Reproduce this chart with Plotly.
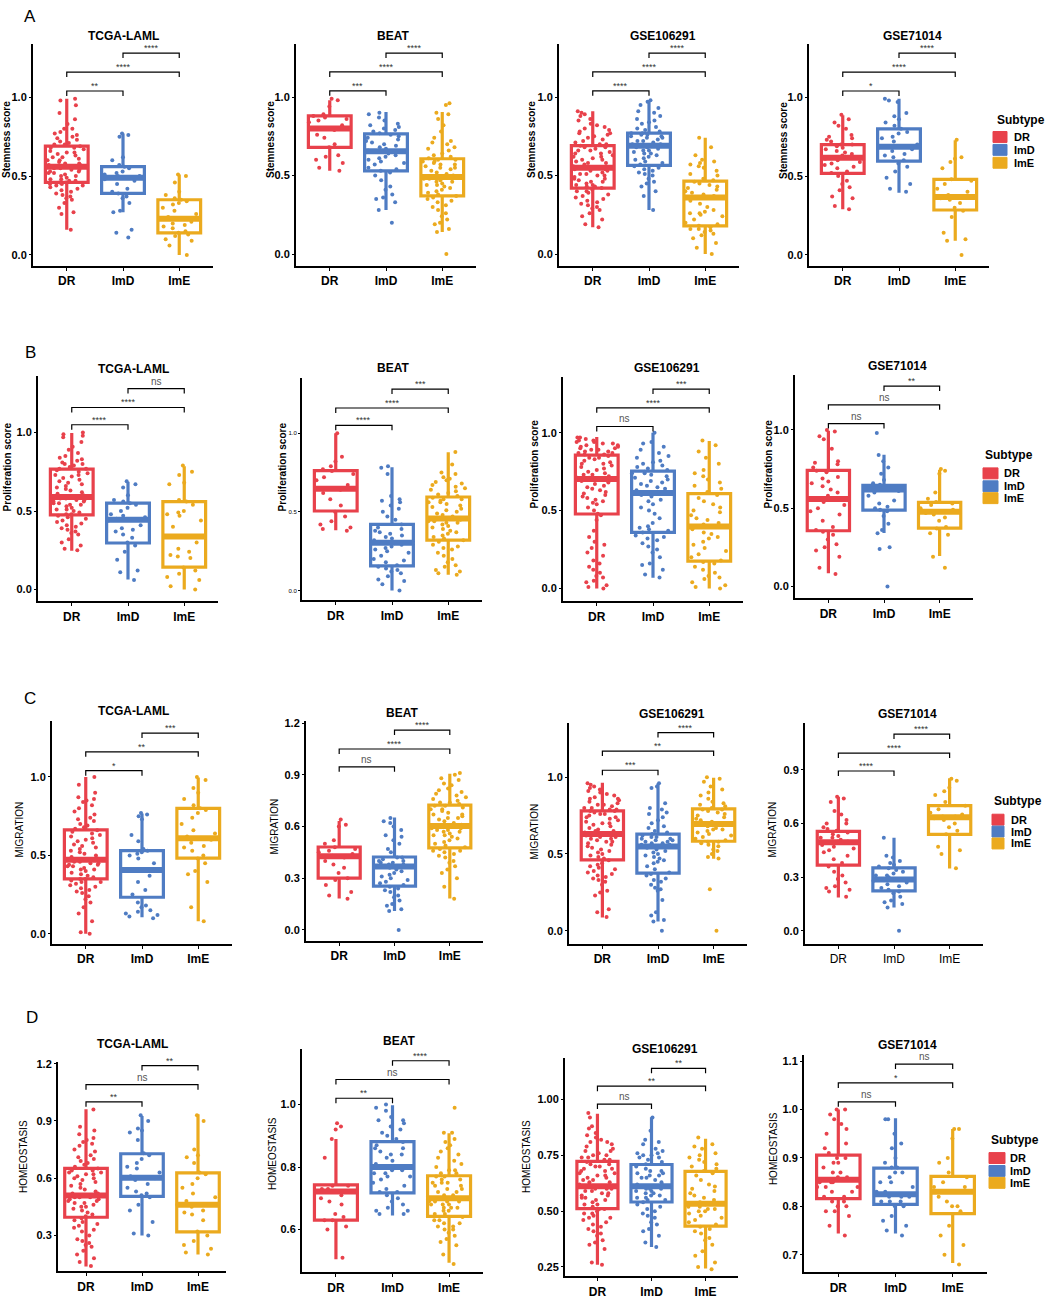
import plotly.graph_objects as go

W, H = 1045, 1299
FONT = "Liberation Sans, Arial, sans-serif"

subtypes = ["DR", "ImD", "ImE"]
colors = ["#E8414B", "#4F7CC3", "#EBAA1E"]
datasets = ["TCGA-LAML", "BEAT", "GSE106291", "GSE71014"]
score_names = ["Stemness score", "Proliferation score", "MIGRATION", "HOMEOSTASIS"]
panel_letters = ["A", "B", "C", "D"]

# ---------------- Row A : Stemness score ----------------
stem_lo = [[0.16, 0.27, 0.0], [0.53, 0.28, 0.14], [0.17, 0.28, 0.0], [0.29, 0.395, 0.09]]
stem_q1 = [[0.46, 0.39, 0.14], [0.68, 0.53, 0.37], [0.42, 0.565, 0.18], [0.517, 0.595, 0.285]]
stem_md = [[0.56, 0.49, 0.23], [0.80, 0.655, 0.49], [0.55, 0.69, 0.36], [0.616, 0.686, 0.367]]
stem_q3 = [[0.69, 0.56, 0.35], [0.88, 0.765, 0.607], [0.69, 0.77, 0.465], [0.70, 0.80, 0.479]]
stem_hi = [[0.99, 0.77, 0.51], [0.98, 0.905, 0.905], [0.91, 0.98, 0.74], [0.886, 0.99, 0.728]]
stem_sig = [["**", "****", "****"], ["***", "****", "****"], ["****", "****", "****"], ["*", "****", "****"]]
stem_brk = [[1.04, 1.16, 1.28], [1.04, 1.16, 1.28], [1.04, 1.16, 1.28], [1.04, 1.16, 1.28]]

stem_tcga = [
    [0.16,0.26,0.27,0.3,0.33,0.35,0.36,0.37,0.38,0.39,0.4,0.41,0.42,0.43,0.44,0.44,0.45,0.45,0.46,
     0.46,0.47,0.47,0.48,0.48,0.49,0.5,0.5,0.51,0.52,0.52,0.53,0.53,0.54,0.54,0.55,0.55,0.56,0.56,
     0.57,0.57,0.58,0.58,0.59,0.6,0.6,0.61,0.62,0.62,0.63,0.64,0.65,0.65,0.66,0.67,0.68,0.68,0.69,
     0.7,0.7,0.71,0.72,0.73,0.74,0.75,0.76,0.77,0.78,0.8,0.8,0.83,0.86,0.9,0.95,0.98,0.99],
    [0.11,0.14,0.16,0.27,0.28,0.33,0.36,0.37,0.39,0.4,0.42,0.45,0.47,0.48,0.49,0.5,0.5,0.51,0.52,
     0.53,0.55,0.56,0.57,0.6,0.62,0.75,0.76,0.77],
    [0.0,0.06,0.09,0.1,0.12,0.13,0.14,0.15,0.17,0.18,0.19,0.2,0.21,0.23,0.24,0.26,0.28,0.3,0.32,
     0.33,0.34,0.35,0.36,0.38,0.4,0.46,0.5,0.51]]
stem_beat = [
    [0.53,0.55,0.58,0.6,0.62,0.63,0.68,0.7,0.74,0.76,0.79,0.8,0.82,0.84,0.85,0.86,0.87,0.88,0.89,
     0.94,0.98,0.99],
    [0.2,0.28,0.33,0.35,0.36,0.38,0.41,0.43,0.47,0.5,0.52,0.53,0.54,0.55,0.57,0.58,0.59,0.6,0.61,
     0.62,0.63,0.64,0.65,0.66,0.67,0.68,0.69,0.7,0.71,0.72,0.73,0.74,0.75,0.76,0.77,0.78,0.79,0.8,
     0.81,0.82,0.83,0.85,0.87,0.89,0.9],
    [0.0,0.14,0.16,0.19,0.2,0.22,0.24,0.26,0.28,0.3,0.31,0.33,0.34,0.35,0.36,0.37,
     0.38,0.39,0.4,0.41,0.42,0.43,0.44,0.44,0.45,0.46,0.46,0.47,0.48,0.48,0.49,0.49,
     0.5,0.51,0.52,0.53,0.54,0.55,0.55,0.56,0.57,0.57,0.58,0.59,0.59,0.6,0.6,0.61,
     0.62,0.63,0.64,0.66,0.67,0.68,0.7,0.71,0.72,0.74,0.78,0.82,0.86,0.89,0.9,0.95,0.96]]
stem_g106 = [
    [0.17,0.19,0.22,0.24,0.26,0.28,0.29,0.3,0.31,0.32,0.33,0.34,0.35,0.36,0.37,0.38,0.39,0.4,0.4,0.41,0.42,
     0.43,0.43,0.44,0.44,0.45,0.46,0.46,0.47,0.48,0.48,0.49,0.5,0.5,0.51,0.51,0.52,0.53,0.53,0.54,0.54,0.55,
     0.56,0.56,0.57,0.58,0.58,0.59,0.6,0.6,0.61,0.62,0.62,0.63,0.64,0.64,0.65,0.66,0.66,0.67,0.68,0.68,0.69,
     0.7,0.7,0.71,0.72,0.73,0.74,0.75,0.76,0.77,0.77,0.78,0.79,0.8,0.81,0.82,0.83,0.85,0.86,0.88,0.89,0.9,0.91],
    [0.28,0.37,0.4,0.43,0.45,0.46,0.48,0.5,0.51,0.52,0.53,0.54,0.55,0.56,0.57,
     0.58,0.59,0.6,0.61,0.62,0.63,0.64,0.64,0.65,0.66,0.66,0.67,0.68,0.68,0.69,
     0.69,0.7,0.7,0.71,0.72,0.72,0.73,0.74,0.74,0.75,0.75,0.76,0.76,0.77,0.77,
     0.78,0.79,0.8,0.81,0.83,0.84,0.85,0.86,0.88,0.9,0.91,0.93,0.95,0.97,0.98],
    [0.0,0.04,0.07,0.1,0.12,0.13,0.14,0.15,0.16,0.16,0.17,0.18,
     0.19,0.2,0.22,0.24,0.25,0.26,0.26,0.27,0.28,0.3,0.32,0.34,0.36,
     0.36,0.37,0.38,0.39,0.4,0.41,0.42,0.43,0.44,0.45,0.46,0.47,
     0.48,0.5,0.51,0.53,0.55,0.56,0.57,0.58,0.59,0.6,0.63,0.68,0.74]]
stem_g710 = [
    [0.29,0.31,0.36,0.37,0.41,0.43,0.45,0.47,0.5,0.52,0.53,0.55,0.56,0.57,0.58,0.59,0.6,0.61,0.62,
     0.63,0.64,0.65,0.66,0.67,0.68,0.69,0.7,0.7,0.72,0.73,0.74,0.75,0.76,0.8,0.82,0.84,0.86,0.89],
    [0.4,0.42,0.45,0.49,0.53,0.56,0.58,0.6,0.62,0.63,0.64,0.66,0.67,0.68,0.69,
     0.7,0.72,0.74,0.75,0.77,0.78,0.8,0.82,0.84,0.86,0.88,0.9,0.97,0.98,0.99],
    [0.0,0.09,0.1,0.14,0.24,0.28,0.3,0.33,0.35,0.36,0.37,0.38,0.4,0.42,0.45,0.47,0.48,0.55,0.59,
     0.61,0.62,0.73]]

# ---------------- Row B : Proliferation score ----------------
prol_lo = [[0.247, 0.063, 0.0], [0.383, 0.0, 0.1], [0.0, 0.068, 0.0], [0.084, 0.341, 0.194]]
prol_q1 = [[0.476, 0.296, 0.142], [0.505, 0.156, 0.32], [0.478, 0.36, 0.175], [0.356, 0.488, 0.373]]
prol_md = [[0.59, 0.444, 0.338], [0.646, 0.303, 0.457], [0.702, 0.613, 0.397], [0.558, 0.62, 0.478]]
prol_q3 = [[0.767, 0.55, 0.56], [0.762, 0.42, 0.594], [0.856, 0.753, 0.609], [0.741, 0.646, 0.537]]
prol_hi = [[0.998, 0.687, 0.786], [1.0, 0.783, 0.878], [0.972, 1.0, 0.947], [0.994, 0.842, 0.745]]
prol_sig = [["****", "****", "ns"], ["****", "****", "***"], ["ns", "****", "***"], ["ns", "ns", "**"]]
prol_brk = [[1.05, 1.16, 1.28], [1.05, 1.16, 1.28], [1.04, 1.16, 1.28], [1.04, 1.16, 1.28]]

prol_tcga = [
    [0.25,0.26,0.28,0.3,0.32,0.35,0.36,0.37,0.38,0.39,0.4,0.41,0.42,0.43,0.44,0.45,0.46,0.47,0.48,
     0.48,0.49,0.5,0.51,0.51,0.52,0.53,0.54,0.54,0.55,0.55,0.56,0.56,0.57,0.57,0.58,0.58,0.59,0.59,
     0.6,0.61,0.62,0.63,0.64,0.65,0.66,0.67,0.68,0.69,0.7,0.71,0.72,0.73,0.73,0.74,0.75,0.76,0.77,
     0.77,0.78,0.79,0.8,0.8,0.81,0.82,0.83,0.84,0.85,0.87,0.89,0.91,0.94,0.97,0.98,0.99,1.0],
    [0.06,0.11,0.12,0.19,0.24,0.28,0.3,0.33,0.35,0.37,0.38,0.39,0.41,0.44,
     0.45,0.46,0.47,0.48,0.5,0.52,0.54,0.55,0.56,0.57,0.6,0.65,0.67,0.69],
    [0.0,0.02,0.06,0.08,0.1,0.12,0.14,0.2,0.21,0.22,0.24,0.26,0.3,0.34,
     0.4,0.44,0.47,0.48,0.49,0.5,0.54,0.56,0.57,0.67,0.68,0.73,0.75,0.79]]
prol_beat = [
    [0.38,0.39,0.4,0.42,0.44,0.47,0.5,0.54,0.58,0.62,0.64,0.65,0.67,0.7,0.72,0.74,0.76,0.77,0.79,
     0.82,0.85,1.0],
    [0.0,0.04,0.06,0.07,0.09,0.11,0.12,0.13,0.14,0.15,0.16,0.18,0.19,0.2,0.22,0.24,0.25,0.26,0.27,
     0.28,0.29,0.3,0.31,0.32,0.33,0.34,0.35,0.36,0.37,0.38,0.39,0.4,0.42,0.45,0.47,0.5,0.52,0.54,
     0.56,0.57,0.58,0.6,0.74,0.78,0.79],
    [0.1,0.11,0.12,0.13,0.15,0.16,0.18,0.2,0.22,0.24,0.26,0.27,0.28,0.29,0.31,0.32,
     0.33,0.34,0.35,0.36,0.37,0.38,0.39,0.4,0.41,0.42,0.43,0.43,0.44,0.44,0.45,0.46,
     0.46,0.47,0.48,0.49,0.5,0.51,0.52,0.53,0.54,0.55,0.56,0.56,0.57,0.58,0.58,0.59,
     0.6,0.61,0.62,0.63,0.64,0.65,0.66,0.67,0.68,0.69,0.7,0.71,0.72,0.74,0.75,0.8,0.88]]
prol_g106 = [
    [0.0,0.01,0.02,0.04,0.05,0.07,0.08,0.1,0.12,0.14,0.16,0.18,0.21,0.23,0.26,0.28,0.3,0.33,0.37,0.44,0.47,
     0.48,0.5,0.52,0.54,0.55,0.56,0.57,0.58,0.59,0.6,0.61,0.62,0.63,0.64,0.65,0.66,0.67,0.68,0.69,0.69,0.7,
     0.7,0.71,0.71,0.72,0.73,0.73,0.74,0.75,0.76,0.77,0.78,0.79,0.8,0.8,0.81,0.82,0.83,0.84,0.84,0.85,0.86,
     0.86,0.87,0.87,0.88,0.88,0.89,0.89,0.9,0.9,0.91,0.91,0.92,0.92,0.93,0.93,0.94,0.94,0.95,0.95,0.96,0.97,0.97],
    [0.07,0.09,0.12,0.15,0.16,0.2,0.23,0.25,0.27,0.29,0.31,0.32,0.33,0.34,0.36,
     0.37,0.38,0.39,0.4,0.42,0.45,0.48,0.5,0.52,0.54,0.56,0.57,0.59,0.6,0.61,
     0.62,0.63,0.64,0.65,0.66,0.67,0.68,0.69,0.7,0.71,0.72,0.73,0.74,0.74,0.75,
     0.76,0.77,0.78,0.79,0.8,0.81,0.82,0.84,0.85,0.87,0.89,0.91,0.93,0.94,1.0],
    [0.0,0.01,0.02,0.04,0.06,0.07,0.08,0.1,0.12,0.14,0.16,0.17,
     0.18,0.2,0.22,0.24,0.26,0.28,0.3,0.32,0.33,0.35,0.36,0.38,0.4,
     0.41,0.42,0.44,0.45,0.47,0.49,0.5,0.52,0.54,0.56,0.58,0.6,
     0.62,0.64,0.66,0.68,0.7,0.72,0.74,0.76,0.8,0.84,0.88,0.92,0.95]]
prol_g710 = [
    [0.08,0.12,0.19,0.23,0.25,0.27,0.3,0.33,0.35,0.36,0.38,0.42,0.46,0.48,0.5,0.52,0.54,0.56,0.56,
     0.58,0.6,0.62,0.64,0.66,0.67,0.69,0.7,0.73,0.74,0.76,0.78,0.79,0.8,0.88,0.94,0.96,0.99,1.0],
    [0.0,0.24,0.25,0.34,0.36,0.4,0.45,0.48,0.49,0.5,0.51,0.53,0.55,0.58,0.6,0.61,0.62,0.62,0.63,
     0.63,0.64,0.64,0.65,0.66,0.68,0.72,0.76,0.8,0.84,0.98],
    [0.12,0.19,0.33,0.34,0.37,0.38,0.42,0.44,0.46,0.47,0.48,0.48,0.49,0.5,0.52,0.53,0.54,0.56,0.6,
     0.72,0.74,0.75]]

# ---------------- Row C : MIGRATION ----------------
migr_lo = [[0.0, 0.106, 0.08], [0.182, 0.11, 0.182], [0.086, 0.06, 0.469], [0.187, 0.131, 0.348]]
migr_q1 = [[0.35, 0.233, 0.483], [0.30, 0.254, 0.476], [0.462, 0.376, 0.583], [0.367, 0.224, 0.539]]
migr_md = [[0.472, 0.407, 0.61], [0.427, 0.368, 0.603], [0.63, 0.548, 0.695], [0.496, 0.287, 0.635]]
migr_q3 = [[0.663, 0.53, 0.80], [0.481, 0.423, 0.724], [0.781, 0.63, 0.794], [0.556, 0.352, 0.70]]
migr_hi = [[1.0, 0.767, 0.996], [0.632, 0.652, 0.906], [0.963, 0.959, 0.996], [0.75, 0.52, 0.854]]
migr_sig = [["*", "**", "***"], ["ns", "****", "****"], ["***", "**", "****"], ["****", "****", "****"]]
migr_brk = [[1.04, 1.16, 1.28], [0.946, 1.05, 1.16], [1.045, 1.17, 1.29], [0.894, 0.994, 1.10]]

migr_tcga = [
    [0.0,0.01,0.08,0.13,0.17,0.2,0.22,0.24,0.26,0.27,0.28,0.29,0.3,0.31,0.32,0.33,0.33,0.34,0.35,
     0.35,0.36,0.37,0.38,0.39,0.4,0.41,0.41,0.42,0.43,0.43,0.44,0.44,0.45,0.45,0.46,0.46,0.47,0.47,
     0.48,0.49,0.5,0.51,0.52,0.53,0.54,0.55,0.56,0.57,0.58,0.59,0.6,0.61,0.62,0.63,0.64,0.65,0.66,
     0.67,0.68,0.69,0.7,0.72,0.73,0.74,0.76,0.78,0.8,0.82,0.84,0.85,0.86,0.87,0.9,0.95,1.0],
    [0.1,0.11,0.12,0.13,0.14,0.15,0.17,0.18,0.2,0.25,0.28,0.33,0.37,0.4,0.41,0.45,0.48,0.5,0.51,
     0.52,0.53,0.54,0.59,0.63,0.73,0.75,0.76,0.77],
    [0.08,0.17,0.33,0.38,0.4,0.45,0.48,0.5,0.53,0.55,0.56,0.58,0.6,0.61,0.62,0.64,0.66,0.7,0.74,
     0.77,0.79,0.8,0.82,0.86,0.9,0.93,0.98,1.0]]
migr_beat = [
    [0.18,0.2,0.22,0.26,0.29,0.3,0.33,0.36,0.38,0.4,0.42,0.43,0.44,0.45,0.46,0.47,0.48,0.5,0.52,
     0.6,0.61,0.64],
    [0.0,0.11,0.12,0.14,0.15,0.17,0.19,0.2,0.22,0.23,0.24,0.25,0.26,0.27,0.28,0.29,0.3,0.31,0.32,
     0.33,0.34,0.35,0.36,0.37,0.37,0.38,0.38,0.39,0.39,0.4,0.4,0.41,0.42,0.42,0.45,0.47,0.5,0.52,
     0.54,0.55,0.58,0.6,0.62,0.63,0.65],
    [0.18,0.25,0.3,0.33,0.35,0.37,0.39,0.4,0.42,0.43,0.44,0.45,0.46,0.46,0.47,0.48,
     0.49,0.5,0.51,0.52,0.53,0.54,0.55,0.55,0.56,0.57,0.57,0.58,0.58,0.59,0.59,0.6,
     0.61,0.62,0.63,0.64,0.65,0.65,0.66,0.67,0.67,0.68,0.69,0.7,0.7,0.71,0.72,0.72,
     0.73,0.74,0.74,0.75,0.76,0.77,0.78,0.79,0.8,0.81,0.82,0.84,0.85,0.87,0.88,0.9,0.91]]
migr_g106 = [
    [0.09,0.12,0.14,0.23,0.25,0.26,0.3,0.32,0.33,0.34,0.35,0.36,0.37,0.38,0.39,0.4,0.41,0.42,0.43,0.44,0.46,
     0.47,0.48,0.49,0.5,0.51,0.52,0.53,0.54,0.55,0.56,0.57,0.58,0.58,0.59,0.6,0.6,0.61,0.61,0.62,0.62,0.63,
     0.63,0.64,0.65,0.65,0.66,0.67,0.68,0.69,0.7,0.7,0.71,0.72,0.73,0.74,0.74,0.75,0.76,0.76,0.77,0.78,0.78,
     0.79,0.79,0.8,0.8,0.81,0.82,0.82,0.83,0.84,0.85,0.86,0.86,0.87,0.88,0.89,0.9,0.91,0.92,0.93,0.94,0.95,0.96],
    [0.0,0.06,0.07,0.1,0.12,0.2,0.26,0.27,0.28,0.3,0.32,0.33,0.34,0.36,0.37,
     0.38,0.4,0.42,0.44,0.45,0.46,0.47,0.48,0.49,0.5,0.51,0.52,0.53,0.54,0.55,
     0.55,0.56,0.56,0.57,0.57,0.58,0.58,0.59,0.59,0.6,0.6,0.61,0.61,0.62,0.63,
     0.64,0.65,0.67,0.68,0.7,0.72,0.74,0.76,0.77,0.79,0.8,0.83,0.93,0.94,0.96],
    [0.0,0.27,0.47,0.48,0.5,0.52,0.53,0.55,0.56,0.57,0.58,0.58,
     0.59,0.6,0.61,0.62,0.63,0.64,0.65,0.66,0.66,0.67,0.68,0.69,0.69,
     0.7,0.7,0.71,0.72,0.73,0.74,0.75,0.76,0.77,0.78,0.79,0.79,
     0.8,0.81,0.82,0.83,0.84,0.86,0.88,0.9,0.92,0.94,0.97,0.99,1.0]]
migr_g710 = [
    [0.19,0.22,0.23,0.24,0.25,0.27,0.29,0.31,0.33,0.36,0.38,0.4,0.42,0.44,0.45,0.46,0.47,0.48,0.49,
     0.5,0.5,0.51,0.52,0.52,0.53,0.54,0.55,0.56,0.57,0.58,0.6,0.6,0.62,0.65,0.67,0.72,0.74,0.75],
    [0.0,0.13,0.15,0.16,0.17,0.19,0.21,0.22,0.23,0.24,0.25,0.26,0.27,0.28,0.29,0.29,0.3,0.31,0.31,
     0.32,0.33,0.34,0.35,0.36,0.37,0.38,0.39,0.41,0.42,0.52],
    [0.35,0.43,0.45,0.47,0.54,0.56,0.58,0.6,0.62,0.63,0.64,0.64,0.65,0.66,0.68,0.7,0.72,0.76,0.78,
     0.8,0.84,0.85]]

# ---------------- Row D : HOMEOSTASIS ----------------
home_lo = [[0.137, 0.30, 0.20], [0.505, 0.645, 0.494], [0.26, 0.34, 0.243], [0.744, 0.744, 0.683]]
home_q1 = [[0.395, 0.505, 0.318], [0.63, 0.717, 0.642], [0.511, 0.541, 0.433], [0.816, 0.804, 0.785]]
home_md = [[0.509, 0.602, 0.461], [0.722, 0.80, 0.70], [0.612, 0.612, 0.533], [0.855, 0.825, 0.83]]
home_q3 = [[0.651, 0.728, 0.628], [0.743, 0.881, 0.772], [0.723, 0.709, 0.678], [0.906, 0.879, 0.862]]
home_hi = [[0.961, 0.926, 0.935], [0.89, 0.998, 0.908], [0.936, 0.921, 0.824], [1.0, 0.982, 0.96]]
home_sig = [["**", "ns", "**"], ["**", "ns", "****"], ["ns", "**", "**"], ["ns", "*", "ns"]]
home_brk = [[1.0, 1.09, 1.19], [1.02, 1.08, 1.14], [0.98, 1.06, 1.14], [1.016, 1.055, 1.094]]

home_tcga = [
    [0.14,0.16,0.18,0.2,0.22,0.24,0.25,0.26,0.27,0.28,0.3,0.32,0.33,0.34,0.35,0.36,0.37,0.38,0.39,
     0.4,0.41,0.42,0.43,0.44,0.45,0.45,0.46,0.47,0.47,0.48,0.48,0.49,0.49,0.5,0.5,0.5,0.51,0.51,
     0.52,0.52,0.53,0.54,0.55,0.56,0.57,0.58,0.59,0.6,0.6,0.61,0.62,0.62,0.63,0.63,0.64,0.64,0.65,
     0.66,0.67,0.68,0.69,0.7,0.71,0.72,0.74,0.75,0.77,0.78,0.79,0.8,0.81,0.83,0.85,0.87,0.96],
    [0.3,0.31,0.37,0.43,0.46,0.5,0.51,0.52,0.53,0.55,0.57,0.59,0.6,0.6,0.61,0.63,0.65,0.66,0.68,
     0.7,0.72,0.73,0.8,0.84,0.85,0.86,0.9,0.93],
    [0.2,0.21,0.23,0.25,0.27,0.3,0.32,0.38,0.41,0.42,0.43,0.45,0.46,0.46,0.48,0.5,0.52,0.55,0.57,
     0.6,0.62,0.63,0.68,0.71,0.72,0.75,0.9,0.93]]
home_beat = [
    [0.51,0.6,0.61,0.63,0.63,0.64,0.65,0.68,0.69,0.7,0.71,0.72,0.72,0.73,0.73,0.74,0.74,0.83,0.89,
     0.92,0.93,0.94],
    [0.65,0.65,0.66,0.66,0.67,0.68,0.69,0.7,0.71,0.72,0.72,0.73,0.74,0.75,0.76,0.77,0.77,0.78,0.78,
     0.79,0.79,0.8,0.8,0.81,0.82,0.83,0.84,0.84,0.85,0.86,0.86,0.87,0.88,0.89,0.9,0.91,0.92,0.93,
     0.94,0.95,0.95,0.96,0.98,0.99,1.0],
    [0.49,0.52,0.55,0.56,0.57,0.58,0.59,0.6,0.6,0.61,0.61,0.62,0.62,0.63,0.63,0.64,
     0.65,0.65,0.66,0.66,0.67,0.67,0.67,0.68,0.68,0.68,0.69,0.69,0.69,0.69,0.7,0.7,
     0.7,0.71,0.71,0.72,0.72,0.73,0.73,0.74,0.74,0.75,0.75,0.75,0.76,0.76,0.77,0.77,
     0.78,0.78,0.79,0.79,0.8,0.81,0.82,0.83,0.84,0.85,0.86,0.87,0.88,0.89,0.91,0.91,0.99]]
home_g106 = [
    [0.26,0.27,0.33,0.35,0.36,0.37,0.39,0.4,0.41,0.42,0.43,0.44,0.45,0.46,0.47,0.47,0.48,0.49,0.49,0.5,0.51,
     0.51,0.52,0.53,0.53,0.54,0.55,0.55,0.56,0.56,0.57,0.57,0.58,0.58,0.59,0.59,0.6,0.6,0.6,0.61,0.61,0.61,
     0.62,0.62,0.63,0.63,0.64,0.64,0.65,0.65,0.66,0.66,0.67,0.67,0.68,0.68,0.69,0.69,0.7,0.7,0.71,0.71,0.72,
     0.73,0.73,0.74,0.74,0.75,0.75,0.76,0.77,0.77,0.78,0.79,0.8,0.81,0.81,0.82,0.83,0.84,0.85,0.87,0.88,0.92,0.94],
    [0.34,0.36,0.39,0.41,0.42,0.44,0.45,0.47,0.48,0.49,0.5,0.51,0.52,0.53,0.54,
     0.55,0.55,0.56,0.56,0.57,0.57,0.58,0.58,0.59,0.59,0.6,0.6,0.6,0.61,0.61,
     0.62,0.62,0.63,0.64,0.65,0.65,0.66,0.66,0.67,0.67,0.68,0.68,0.69,0.7,0.71,
     0.72,0.73,0.74,0.74,0.75,0.75,0.76,0.76,0.77,0.78,0.8,0.81,0.82,0.86,0.92],
    [0.24,0.25,0.27,0.3,0.32,0.35,0.37,0.38,0.4,0.41,0.42,0.43,
     0.44,0.45,0.46,0.47,0.48,0.49,0.5,0.5,0.51,0.51,0.52,0.52,0.53,
     0.54,0.55,0.56,0.57,0.58,0.59,0.6,0.61,0.62,0.64,0.66,0.67,
     0.68,0.69,0.7,0.71,0.72,0.73,0.74,0.75,0.76,0.78,0.79,0.8,0.83]]
home_g710 = [
    [0.74,0.76,0.78,0.79,0.79,0.8,0.8,0.81,0.81,0.82,0.82,0.83,0.83,0.84,0.84,0.84,0.85,0.85,0.85,
     0.86,0.86,0.87,0.87,0.88,0.89,0.89,0.9,0.9,0.91,0.92,0.93,0.95,0.96,0.97,0.98,0.99,1.0,1.0],
    [0.74,0.75,0.76,0.77,0.78,0.8,0.8,0.81,0.81,0.81,0.82,0.82,0.82,0.83,0.83,0.84,0.85,0.85,0.86,
     0.87,0.87,0.88,0.88,0.89,0.9,0.92,0.93,0.95,0.98,0.98],
    [0.68,0.7,0.72,0.74,0.76,0.79,0.8,0.8,0.81,0.82,0.83,0.83,0.84,0.84,0.85,0.86,0.87,0.89,0.9,
     0.94,0.96,0.96]]

rows = [
    dict(lo=stem_lo, q1=stem_q1, md=stem_md, q3=stem_q3, hi=stem_hi, sig=stem_sig, brk=stem_brk,
         pts=[stem_tcga, stem_beat, stem_g106, stem_g710]),
    dict(lo=prol_lo, q1=prol_q1, md=prol_md, q3=prol_q3, hi=prol_hi, sig=prol_sig, brk=prol_brk,
         pts=[prol_tcga, prol_beat, prol_g106, prol_g710]),
    dict(lo=migr_lo, q1=migr_q1, md=migr_md, q3=migr_q3, hi=migr_hi, sig=migr_sig, brk=migr_brk,
         pts=[migr_tcga, migr_beat, migr_g106, migr_g710]),
    dict(lo=home_lo, q1=home_q1, md=home_md, q3=home_q3, hi=home_hi, sig=home_sig, brk=home_brk,
         pts=[home_tcga, home_beat, home_g106, home_g710]),
]

# y-axis ticks per panel
tick_vals = [
    [0, 0.5, 1.0]] * 8 + [
    [0, 0.5, 1.0], [0, 0.3, 0.6, 0.9, 1.2], [0, 0.5, 1.0], [0, 0.3, 0.6, 0.9],
    [0.3, 0.6, 0.9, 1.2], [0.6, 0.8, 1.0], [0.25, 0.5, 0.75, 1.0], [0.7, 0.8, 0.9, 1.0, 1.1]]
tick_text = [
    ["0.0", "0.5", "1.0"]] * 8 + [
    ["0.0", "0.5", "1.0"], ["0.0", "0.3", "0.6", "0.9", "1.2"], ["0.0", "0.5", "1.0"], ["0.0", "0.3", "0.6", "0.9"],
    ["0.3", "0.6", "0.9", "1.2"], ["0.6", "0.8", "1.0"], ["0.25", "0.50", "0.75", "1.00"],
    ["0.7", "0.8", "0.9", "1.0", "1.1"]]

# ---------------- layout geometry (pixels) ----------------
panel_px = [  # x_left, x_right, y_top, y_bottom
    (33, 213, 40, 264), (296, 476, 40, 264), (559, 739, 40, 264), (809, 989, 40, 264),
    (38, 218, 375, 602), (302, 482, 377, 601), (563, 743, 376, 602), (795, 973, 374, 599),
    (52, 232, 723, 947), (306, 483, 723, 944), (569, 747, 725, 947), (805, 983, 725, 947),
    (58, 226, 1066, 1277), (302, 483, 1053, 1278), (565, 738, 1062, 1282), (804, 987, 1059, 1278)]
y_ranges = [
    [-0.07, 1.34], [-0.076, 1.34], [-0.076, 1.34], [-0.07, 1.34],
    [-0.076, 1.36], [-0.063, 1.35], [-0.083, 1.357], [-0.076, 1.35],
    [-0.063, 1.354], [-0.063, 1.21], [-0.084, 1.35], [-0.072, 1.16],
    [0.1125, 1.21], [0.4635, 1.178], [0.209, 1.187], [0.664, 1.113]]
x_ranges = [[-0.6, 2.6]] * 12 + [[-0.5, 2.5], [-0.6, 2.6], [-0.6, 2.6], [-0.6, 2.6]]
title_px = [(123, 32), (393, 32), (663, 32), (912, 32),
            (133, 368), (393, 367), (667, 367), (897, 365),
            (133, 712), (402, 714), (672, 716), (907, 716),
            (132, 1048), (399, 1045), (665, 1053), (907, 1049)]
ytitle_px = [(7, 137), (271, 137), (532, 137), (784, 138),
             (7, 467), (282, 467), (534, 464), (768, 464),
             (20, 832), (275, 829), (535, 834), (773, 832),
             (23, 1162), (272, 1159), (526, 1162), (773, 1154)]
letter_px = [(30, 13), (30, 351), (30, 700), (32, 1021)]
legend_px = [  # title_left, title_y, key_left, key_right, key_y list, label_left
    (995, 117, 993, 1007, [134, 147, 160], 1012),
    (983, 455, 983, 998, [473, 486, 498], 1002),
    (992, 803, 992, 1004, [822, 834, 846], 1009),
    (989, 1145, 989, 1005, [1163, 1176, 1188], 1008)]

BOX_W = 0.76
pairs = [(0, 1), (0, 2), (1, 2)]


def px(x):
    return x / W


def py(y):
    return 1 - y / H


fig = go.Figure()
annotations = []
shapes = []

for r, row in enumerate(rows):
    for d in range(4):
        k = r * 4 + d
        sfx = "" if k == 0 else str(k + 1)
        xa, ya = "x" + sfx, "y" + sfx
        x0, x1, yt, yb = panel_px[k]
        yr = y_ranges[k]
        for g in range(3):
            c = colors[g]
            fig.add_trace(go.Box(
                x=[g], q1=[row["q1"][d][g]], median=[row["md"][d][g]], q3=[row["q3"][d][g]],
                lowerfence=[row["lo"][d][g]], upperfence=[row["hi"][d][g]],
                width=BOX_W, fillcolor="white", line=dict(color=c, width=3.2), whiskerwidth=0,
                boxpoints=False, orientation="v", xaxis=xa, yaxis=ya, hoverinfo="skip", showlegend=False))
            med = row["md"][d][g]
            fig.add_trace(go.Scatter(
                x=[g - BOX_W / 2, g + BOX_W / 2], y=[med, med], mode="lines",
                line=dict(color=c, width=6), xaxis=xa, yaxis=ya, hoverinfo="skip", showlegend=False))
        for g in range(3):
            c = colors[g]
            pts = row["pts"][d][g]
            fig.add_trace(go.Box(
                x=[g] * len(pts), y=pts, boxpoints="all", jitter=1.0, pointpos=0, width=BOX_W,
                fillcolor="rgba(0,0,0,0)", line=dict(color="rgba(0,0,0,0)", width=0), whiskerwidth=0,
                marker=dict(color=c, size=4), orientation="v", xaxis=xa, yaxis=ya,
                hoverinfo="y", showlegend=False))
        # significance brackets
        unit_px = (yb - yt) / (yr[1] - yr[0])
        tick = 5 / unit_px
        for (a, b), lvl, lab in zip(pairs, row["brk"][d], row["sig"][d]):
            fig.add_trace(go.Scatter(
                x=[a, a, b, b], y=[lvl - tick, lvl, lvl, lvl - tick], mode="lines",
                line=dict(color="black", width=1.2), xaxis=xa, yaxis=ya, hoverinfo="skip", showlegend=False))
            is_ns = lab == "ns"
            annotations.append(dict(
                x=(a + b) / 2, y=lvl, xref=xa, yref=ya, text=lab, showarrow=False,
                xanchor="center", yanchor="bottom", yshift=0 if is_ns else -2,
                font=dict(family=FONT, size=10 if is_ns else 9, color="#555" if is_ns else "#333")))
        # axes
        xbold = "normal" if k == 11 else "bold"
        ysize, yweight = (6, "normal") if k == 5 else (11, "bold")
        fig.layout["xaxis" + sfx] = dict(
            domain=[px(x0), px(x1)], range=x_ranges[k], anchor=ya, tickmode="array",
            tickvals=[0, 1, 2], ticktext=subtypes, showline=True, linecolor="black", linewidth=2,
            ticks="outside", ticklen=3, tickwidth=1, tickcolor="black", showgrid=False, zeroline=False,
            tickfont=dict(family=FONT, size=12, color="black", weight=xbold), fixedrange=True)
        fig.layout["yaxis" + sfx] = dict(
            domain=[py(yb), py(yt)], range=yr, anchor=xa, tickmode="array",
            tickvals=tick_vals[k], ticktext=tick_text[k], showline=True, linecolor="black", linewidth=2,
            ticks="outside", ticklen=2, tickwidth=1, tickcolor="black", showgrid=False, zeroline=False,
            tickfont=dict(family=FONT, size=ysize, color="black", weight=yweight), fixedrange=True)
        # panel title
        tx, ty = title_px[k]
        annotations.append(dict(x=px(tx), y=py(ty), xref="paper", yref="paper", text=datasets[d],
                                showarrow=False, xanchor="center", yanchor="middle",
                                font=dict(family=FONT, size=12, color="black", weight="bold")))
        # y-axis title
        ax, ay = ytitle_px[k]
        annotations.append(dict(x=px(ax), y=py(ay), xref="paper", yref="paper", text=score_names[r],
                                showarrow=False, textangle=-90, xanchor="center", yanchor="middle",
                                font=dict(family=FONT, size=10, color="black",
                                          weight="bold" if r < 2 else "normal")))
    # panel letter
    lx, ly = letter_px[r]
    annotations.append(dict(x=px(lx), y=py(ly), xref="paper", yref="paper", text=panel_letters[r],
                            showarrow=False, xanchor="center", yanchor="middle",
                            font=dict(family="Liberation Sans Narrow, Arial Narrow, " + FONT, size=17, color="black")))
    # legend
    tl, tyy, kl, kr, kys, ll = legend_px[r]
    annotations.append(dict(x=px(tl), y=py(tyy), xref="paper", yref="paper", text="Subtype",
                            showarrow=False, xanchor="left", yanchor="middle",
                            font=dict(family=FONT, size=12, color="black", weight="bold")))
    for g in range(3):
        shapes.append(dict(type="rect", xref="paper", yref="paper",
                           x0=px(kl), x1=px(kr), y0=py(kys[g] + 5.5), y1=py(kys[g] - 5.5),
                           fillcolor=colors[g], line=dict(color=colors[g], width=1)))
        annotations.append(dict(x=px(ll), y=py(kys[g]), xref="paper", yref="paper", text=subtypes[g],
                                showarrow=False, xanchor="left", yanchor="middle",
                                font=dict(family=FONT, size=11, color="black", weight="bold")))

fig.update_layout(
    width=W, height=H, autosize=False, margin=dict(l=0, r=0, t=0, b=0),
    paper_bgcolor="white", plot_bgcolor="white", showlegend=False, boxmode="overlay",
    annotations=annotations, shapes=shapes, font=dict(family=FONT))

fig.write_html("out.html", config={"displayModeBar": False},
               post_script="document.body.style.margin='0';document.body.style.overflow='hidden';")
